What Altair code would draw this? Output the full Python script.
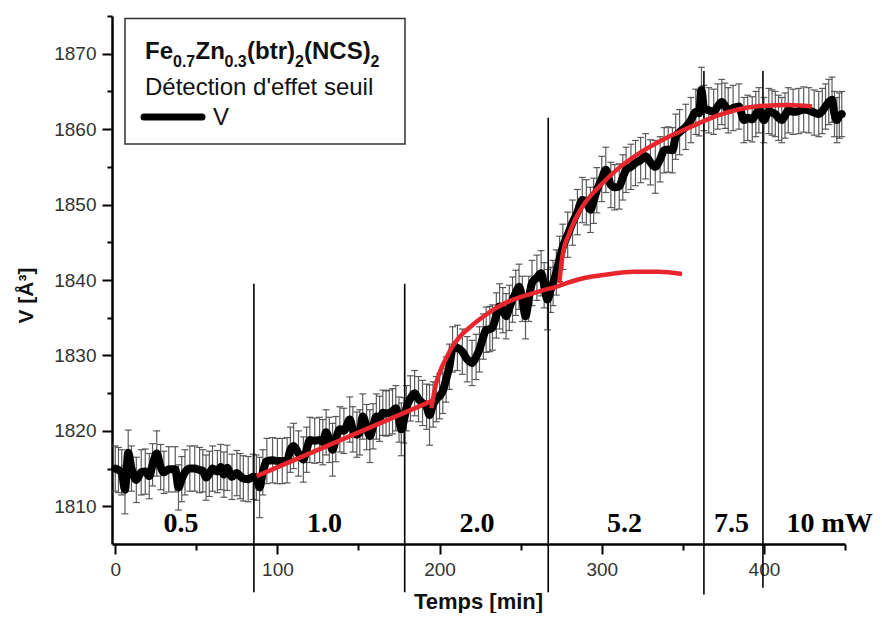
import altair as alt
import pandas as pd

# ---- measured series (time in min, cell volume in A^3, error bar half-width) ----
time_min = [
    0, 2, 4, 6, 8, 10, 13, 16, 18.5, 21,
    23, 25.6, 28, 30, 33, 37, 39, 41, 43, 46,
    49, 52, 54, 56, 58, 60, 63, 65, 67, 69,
    72, 75, 77, 79, 82, 85, 87, 89, 91, 93.5,
    97, 100, 103, 106, 108, 110, 113, 116, 118, 120,
    123, 126, 128, 130, 132, 134, 136, 138.5, 141, 144.6,
    146.5, 149, 150.8, 152.6, 155, 157, 159, 161, 163, 165,
    167, 169, 171, 173, 175, 176.4, 178, 179.5, 182, 184.6,
    187, 189.5, 192, 193.8, 196, 198, 200, 202, 204, 206,
    208, 211, 214, 217, 220, 222.5, 224.6, 227, 228.7, 231,
    232.6, 235, 237, 239, 241, 243, 245, 247, 249, 251,
    253, 255, 257, 260, 262.6, 264.5, 266.5, 268.5, 270, 272,
    274, 276, 279, 282, 285, 288, 290.5, 293, 295, 297,
    300, 302.5, 305.6, 308, 310.8, 313, 315, 318, 320.8, 324,
    327, 330, 333, 336, 338.5, 341, 343.6, 345.6, 348, 351.8,
    355, 358, 360, 361.5, 363, 366, 369, 371.5, 374, 376,
    378, 381, 384.6, 387.7, 390, 392.8, 395, 396.9, 400, 403,
    405, 407, 409, 411, 413, 415, 418, 421.5, 424.5, 427.7,
    431, 433.8, 436, 438, 440, 442, 443.5, 445, 446.5, 448,
]
volume = [
    1815.0, 1814.8, 1814.5, 1812.2, 1817.1, 1815.0, 1813.5, 1814.5, 1814.6, 1814.0,
    1815.5, 1817.0, 1815.2, 1814.5, 1814.9, 1814.9, 1812.5, 1813.6, 1814.5, 1815.0,
    1815.0, 1814.8, 1814.7, 1813.8, 1814.3, 1815.0, 1814.6, 1815.2, 1814.2, 1815.1,
    1813.9, 1814.4, 1814.0, 1813.7, 1813.6, 1813.9, 1813.8, 1812.5, 1814.5, 1816.0,
    1816.1, 1816.0, 1816.0, 1816.1, 1817.5, 1818.0, 1817.0, 1816.2, 1817.5, 1818.8,
    1818.7, 1818.8, 1818.5, 1819.8, 1818.8, 1817.5, 1818.9, 1820.2, 1820.0, 1821.5,
    1820.2, 1819.5, 1819.8, 1821.9, 1820.5, 1819.3, 1820.6, 1821.9, 1821.6, 1822.4,
    1822.3, 1822.4, 1822.6, 1823.0, 1821.5, 1820.2, 1821.4, 1823.0, 1824.3, 1825.0,
    1824.2, 1823.7, 1823.2, 1822.1, 1823.5, 1824.2, 1824.6, 1825.3, 1826.8, 1828.5,
    1830.8, 1831.0, 1830.5, 1829.5, 1829.0, 1829.8, 1830.8, 1832.5, 1833.4, 1833.5,
    1833.7, 1835.3, 1836.5, 1836.0, 1835.2, 1836.3, 1837.4, 1838.3, 1839.1, 1837.5,
    1835.2, 1837.5, 1839.6, 1840.3, 1840.9, 1839.3, 1837.4, 1838.7, 1839.6, 1841.0,
    1842.8, 1844.4, 1846.0, 1847.6, 1849.0, 1850.6, 1850.3, 1849.3, 1850.5, 1851.9,
    1853.4, 1854.6, 1852.6, 1852.3, 1852.4, 1853.6, 1854.6, 1855.0, 1855.5, 1855.9,
    1856.4, 1855.6, 1855.0, 1856.0, 1857.2, 1857.3, 1857.2, 1859.0, 1859.6, 1860.3,
    1861.2, 1862.3, 1862.1, 1865.2, 1862.8, 1862.5, 1862.3, 1863.0, 1863.6, 1863.1,
    1862.5, 1862.8, 1863.0, 1861.2, 1861.5, 1861.3, 1862.0, 1862.5, 1861.2, 1862.4,
    1862.2, 1862.0, 1861.5, 1861.2, 1861.8, 1862.5, 1862.3, 1862.4, 1862.6, 1862.5,
    1862.2, 1862.0, 1862.4, 1863.0, 1863.6, 1863.9, 1862.0, 1861.2, 1861.8, 1862.0,
]
error = [
    3.0, 3.0, 3.0, 3.2, 3.0, 3.0, 3.0, 3.0, 3.0, 3.0,
    2.8, 3.0, 3.0, 2.8, 3.0, 3.0, 3.0, 3.0, 3.0, 3.0,
    3.0, 3.0, 2.8, 3.0, 3.0, 3.0, 2.8, 3.0, 3.0, 3.0,
    3.0, 3.0, 3.0, 3.0, 3.0, 3.0, 3.0, 4.0, 3.0, 3.0,
    3.0, 3.0, 3.0, 3.0, 3.0, 3.0, 3.0, 3.0, 3.0, 3.0,
    3.0, 3.0, 3.0, 3.0, 3.0, 3.5, 3.0, 3.0, 3.0, 3.0,
    3.0, 3.0, 3.0, 3.0, 3.0, 3.5, 3.0, 3.0, 3.0, 3.0,
    3.0, 3.0, 3.0, 3.0, 3.0, 3.5, 3.0, 3.0, 3.0, 3.0,
    3.0, 3.0, 3.0, 4.0, 3.0, 3.0, 3.0, 3.0, 3.0, 3.0,
    3.0, 3.0, 3.0, 3.0, 3.0, 3.0, 3.0, 3.0, 3.0, 3.0,
    3.0, 3.0, 3.0, 3.0, 3.0, 3.0, 3.0, 3.0, 3.0, 3.0,
    3.0, 3.0, 3.0, 3.0, 3.0, 3.0, 4.0, 3.0, 3.0, 3.0,
    3.0, 3.0, 3.0, 3.0, 3.0, 3.0, 3.0, 3.0, 3.0, 3.0,
    3.0, 3.0, 3.0, 3.0, 3.0, 3.0, 3.0, 3.0, 3.0, 3.0,
    3.0, 3.0, 3.5, 3.0, 3.0, 3.0, 3.0, 3.0, 3.0, 3.0,
    3.0, 3.0, 3.0, 3.0, 3.0, 3.0, 3.0, 3.0, 3.0, 3.0,
    3.0, 3.0, 3.0, 3.0, 3.0, 3.0, 3.0, 3.0, 3.0, 3.0,
    3.0, 3.0, 3.0, 3.0, 3.0, 3.0, 3.0, 3.0, 3.0, 3.0,
    3.0, 3.0, 3.0, 3.0, 3.0, 3.0, 3.0, 3.0, 3.0, 3.0,
]

# ---- red fitted curves ----
fit1_t = [87.2, 195.7]
fit1_v = [1814.0, 1824.0]
fit2_t = [195.0, 197.0, 200, 204, 208, 213, 218.5, 223.5, 228.7, 235, 241, 248,
          255.4, 263, 271.8, 280, 290, 302, 320, 335, 349.5]
fit2_v = [1823.0, 1825.5, 1827.7, 1829.6, 1831.2, 1832.6, 1833.7, 1834.6, 1835.4, 1836.3,
          1837.0, 1837.6, 1838.1, 1838.6, 1839.1, 1839.7, 1840.3, 1840.7, 1841.1, 1841.1, 1840.8]
fit3_t = [273.8, 275.7, 280, 288, 298.5, 310.8, 323, 339.5, 353.8, 370, 384, 395, 415.4, 429.6]
fit3_v = [1839.6, 1843.1, 1846.2, 1849.7, 1852.4, 1854.9, 1856.8, 1858.8, 1860.2, 1861.7,
          1862.6, 1863.0, 1863.2, 1863.0]

# ---- laser power switch markers and labels ----
switch_t = [85.5, 178.5, 267, 363, 399.4]
switch_top = [1839.5, 1839.5, 1861.5, 1867.7, 1867.7]
switch_bottom = [1798.6, 1798.6, 1798.6, 1798.3, 1799.2]
power_labels = ["0.5", "1.0", "2.0", "5.2", "7.5", "10 mW"]
power_t = [40.6, 129, 223, 314, 380, 440.5]
power_v = [1806.6, 1806.6, 1806.6, 1806.6, 1806.6, 1806.6]

# ---- legend texts ----
legend_title_parts = ["Fe", "0.7", "Zn", "0.3", "(btr)", "2", "(NCS)", "2"]
legend_title_sub = [False, True, False, True, False, True, False, True]
legend_line2 = "Détection d'effet seuil"
legend_series = "V"

# layout (pixels inside the plot area)
W, H = 733, 528
title_part_x = [33, 61, 83.5, 112.5, 135, 183, 192, 258.5]

XDOM = [-2, 450]
YDOM = [1805, 1875]
RED = "#e8262d"

df = pd.DataFrame({"t": time_min, "v": volume, "e": error})
df["lo"] = df["v"] - df["e"]
df["hi"] = df["v"] + df["e"]
df["tl"] = df["t"] - 2.1
df["tr"] = df["t"] + 2.1

xs = alt.Scale(domain=XDOM, nice=False, zero=False)
ys = alt.Scale(domain=YDOM, nice=False, zero=False)

x_axis = alt.Axis(
    values=list(range(0, 451, 50)),
    labelExpr="datum.value % 100 === 0 ? datum.label : ''",
    tickSize={"condition": {"test": "datum.value % 100 === 0", "value": 10}, "value": 6},
    title="Temps [min]", titleX=366, titleY=64, titleAlign="center",
    titleBaseline="alphabetic", titleFontSize=22, titleFontWeight="bold",
    titleFont="Liberation Sans", titleColor="#111",
    labelFontSize=19, labelPadding=6, labelColor="#333", labelFont="Liberation Sans",
    domainColor="black", domainWidth=2.5, tickColor="black", tickWidth=2, grid=False,
)
y_axis = alt.Axis(
    values=list(range(1810, 1876, 5)), format="d",
    labelExpr="datum.value % 10 === 0 ? datum.label : ''",
    tickSize={"condition": {"test": "datum.value % 10 === 0", "value": 10}, "value": 5},
    title="V [Å³]", titleX=-86, titleY=279, titleAlign="center", titleBaseline="middle",
    titleFontSize=21, titleFontWeight="bold", titleFont="Liberation Sans", titleColor="#111",
    labelFontSize=19, labelPadding=6, labelColor="#333", labelFont="Liberation Sans",
    domainColor="black", domainWidth=2.5, tickColor="black", tickWidth=2, grid=False,
)

base = alt.Chart(df)
err_rule = base.mark_rule(color="#4a4a4a", strokeWidth=1.2, opacity=0.9).encode(
    x=alt.X("t:Q", scale=xs, axis=x_axis), y=alt.Y("lo:Q", scale=ys, axis=y_axis), y2="hi:Q")
cap_hi = base.mark_rule(color="#4a4a4a", strokeWidth=1.2, opacity=0.9).encode(
    x="tl:Q", x2="tr:Q", y="hi:Q")
cap_lo = base.mark_rule(color="#4a4a4a", strokeWidth=1.2, opacity=0.9).encode(
    x="tl:Q", x2="tr:Q", y="lo:Q")
line = base.mark_line(color="black", strokeWidth=8, interpolate="monotone",
                      strokeJoin="round", strokeCap="round").encode(x="t:Q", y="v:Q")

sw = pd.DataFrame({"t": switch_t, "top": switch_top, "bot": switch_bottom})
switch = alt.Chart(sw).mark_rule(color="black", strokeWidth=1.6, clip=False).encode(
    x="t:Q", y="top:Q", y2="bot:Q")

def red_curve(ts, vs):
    d = pd.DataFrame({"t": ts, "v": vs, "o": list(range(len(ts)))})
    return alt.Chart(d).mark_line(color=RED, strokeWidth=4.5, interpolate="monotone",
                                  strokeCap="butt").encode(x="t:Q", y="v:Q", order="o:Q")

fits = [red_curve(fit1_t, fit1_v), red_curve(fit2_t, fit2_v), red_curve(fit3_t, fit3_v)]

pl = pd.DataFrame({"t": power_t, "v": power_v, "lab": power_labels})
plabels = alt.Chart(pl).mark_text(font="Liberation Serif", fontSize=28, fontWeight="bold",
                                  color="black", baseline="alphabetic", align="center",
                                  clip=False).encode(x="t:Q", y="v:Q", text="lab:N")

one = pd.DataFrame({"a": [0]})
legend_layers = [
    alt.Chart(one).mark_rect(fill="white", stroke="#333", strokeWidth=1.5).encode(
        x=alt.value(13), x2=alt.value(293), y=alt.value(2.5), y2=alt.value(128)),
]
for part, sub, px in zip(legend_title_parts, legend_title_sub, title_part_x):
    legend_layers.append(
        alt.Chart(one).mark_text(font="Liberation Sans", fontWeight="bold",
                                 fontSize=16 if sub else 24, align="left",
                                 baseline="alphabetic", color="#111").encode(
            x=alt.value(px), y=alt.value(50.5 if sub else 43.3), text=alt.value(part)))
legend_layers.append(
    alt.Chart(one).mark_text(font="Liberation Sans", fontSize=24, align="left",
                             baseline="alphabetic", color="#111").encode(
        x=alt.value(33), y=alt.value(79), text=alt.value(legend_line2)))
legend_layers.append(
    alt.Chart(one).mark_rule(color="black", strokeWidth=7, strokeCap="round").encode(
        x=alt.value(32), x2=alt.value(90), y=alt.value(101)))
legend_layers.append(
    alt.Chart(one).mark_text(font="Liberation Sans", fontSize=24, align="left",
                             baseline="alphabetic", color="#111").encode(
        x=alt.value(101), y=alt.value(109), text=alt.value(legend_series)))

chart = alt.layer(err_rule, cap_hi, cap_lo, line, switch, *fits, plabels, *legend_layers).properties(
    width=W, height=H,
    autosize=alt.AutoSizeParams(type="none"),
    padding={"left": 104, "top": 8, "right": 29, "bottom": 69},
).configure_view(stroke=None)

chart.save("out.html", embed_options={"renderer": "svg", "actions": False})
